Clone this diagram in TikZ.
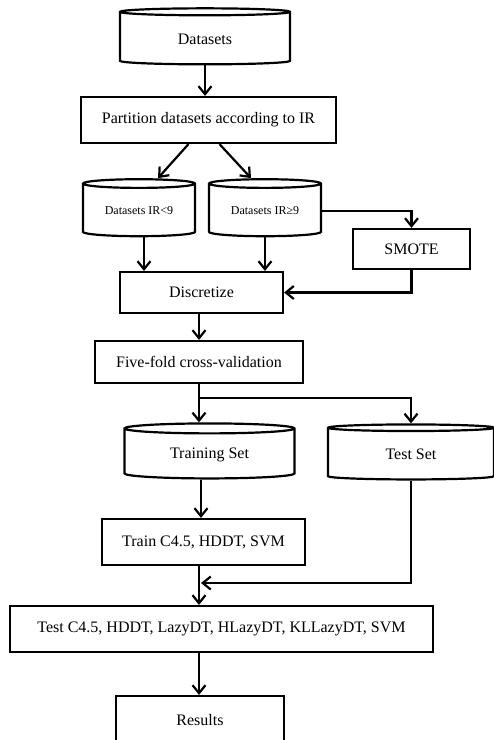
\documentclass[tikz,border=0pt]{standalone}
\usepackage{fontspec}
\setmainfont{Liberation Serif}
\usetikzlibrary{shapes.geometric,arrows.meta}
\begin{document}
\begin{tikzpicture}[x=1pt,y=-1pt,line width=2.2pt,
  >={Straight Barb[length=8pt,width=13pt]},
  stepbox/.style={draw,rectangle,inner sep=2pt,font=\fontsize{16}{19}\selectfont},
  store/.style={draw,cylinder,shape border rotate=90,aspect=0.12,inner sep=2pt,font=\fontsize{16}{19}\selectfont},
  smallstore/.style={store,font=\fontsize{12}{14}\selectfont}]
\useasboundingbox (0,0) rectangle (494,740);
\begin{scope}
\clip (0,0) rectangle (494,740);
\node[store,minimum width=170pt,minimum height=56pt] (data) at (205,39) {Datasets};
\node[stepbox,minimum width=255pt,minimum height=46pt] (part) at (208.5,120) {Partition datasets according to IR};
\node[smallstore,minimum width=112pt,minimum height=57pt] (low) at (139,211) {Datasets IR<9};
\node[smallstore,minimum width=112pt,minimum height=57pt] (high) at (265,211) {Datasets IR≥9};
\node[stepbox,minimum width=117pt,minimum height=40pt] (smote) at (411.5,249) {SMOTE};
\node[stepbox,minimum width=163pt,minimum height=41pt] (disc) at (201.5,292.5) {Discretize};
\node[stepbox,minimum width=208pt,minimum height=42pt] (fold) at (199,362) {Five-fold cross-validation};
\node[store,minimum width=170pt,minimum height=55pt] (trainset) at (209.5,454.5) {Training Set};
\node[store,minimum width=166pt,minimum height=55pt] (testset) at (411,454.5) {Test Set};
\node[stepbox,minimum width=203pt,minimum height=46pt] (train) at (203.5,542) {Train C4.5, HDDT, SVM};
\node[stepbox,minimum width=423pt,minimum height=46pt] (test) at (221.5,629) {Test C4.5, HDDT, LazyDT, HLazyDT, KLLazyDT, SVM};
\node[stepbox,minimum width=168pt,minimum height=48pt] (res) at (200,720) {Results};
\end{scope}
\coordinate (split) at (199,398);
\coordinate (join) at (201,583);
% connectors
\draw[->] (data.south) -- (data.south |- part.north);
\draw[->] ([xshift=-20pt]part.south) -- ([xshift=19pt]low.north);
\draw[->] ([xshift=11pt]part.south) -- ([xshift=-14pt]high.north);
\draw[->] (high.east) -| (smote.north);
\draw[->] ([xshift=5pt]low.south) -- ([xshift=5pt]low.south |- disc.north);
\draw[->] (high.south) -- (high.south |- disc.north);
\draw[->] (smote.south) |- (disc.east);
\draw[->] (fold.north |- disc.south) -- (fold.north);
\draw (fold.south) -- (split);
\draw[->] (split) -- (split |- trainset.north);
\draw[->] (split) -| (testset.north);
\draw[->] (join |- trainset.south) -- (join |- train.north);
\draw[->] (testset.south) |- (join);
\draw[->] (split |- train.south) -- (split |- test.north);
\draw[->] (split |- test.south) -- (split |- res.north);
\end{tikzpicture}
\end{document}
